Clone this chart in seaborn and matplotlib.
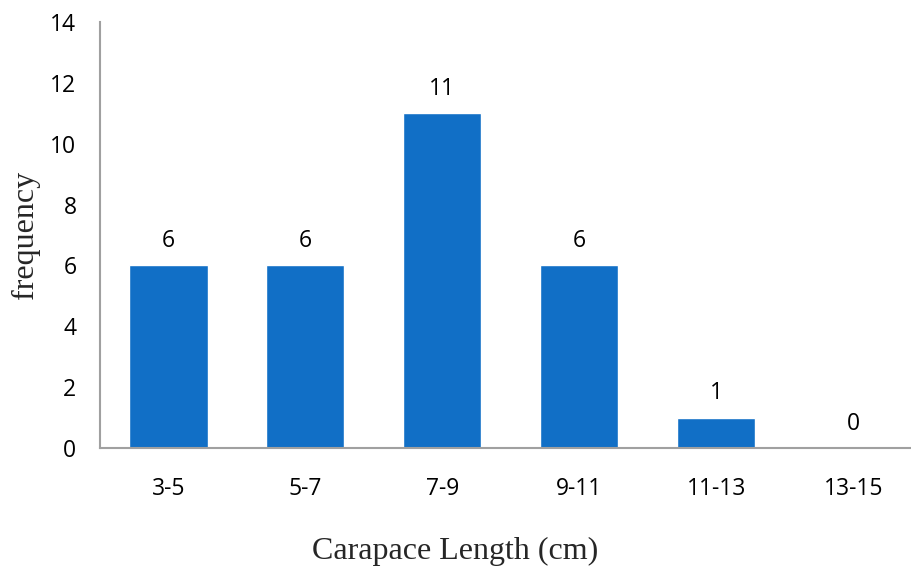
import matplotlib
matplotlib.use("Agg")
import matplotlib.pyplot as plt
import seaborn as sns
import pandas as pd

# Carapace length classes and their counts
length_classes = ["3-5", "5-7", "7-9", "9-11", "11-13", "13-15"]
frequencies = [6, 6, 11, 6, 1, 0]
y_ticks = [0, 2, 4, 6, 8, 10, 12, 14]

sns.set_theme(style="white")
plt.rcParams["font.family"] = ["Open Sans", "DejaVu Sans"]

df = pd.DataFrame({"class": length_classes, "freq": frequencies})

fig = plt.figure(figsize=(9.11, 5.71), dpi=100)
# the category axis runs slightly past the right edge of the canvas
ax = fig.add_axes([0.1098, 0.2154, 0.902, 0.7461])

sns.barplot(data=df, x="class", y="freq", color="#116FC6", width=0.57,
            saturation=1, ax=ax)

ax.set_ylim(0, 14)
ax.set_xlim(-0.5, len(length_classes) - 0.5)
ax.set_yticks(y_ticks)
ax.tick_params(axis="both", length=0, labelsize=16.5, colors="black")
ax.tick_params(axis="x", pad=21)
ax.tick_params(axis="y", pad=17)

for container in ax.containers:
    ax.bar_label(container, labels=[str(v) for v in frequencies],
                 padding=9, fontsize=16.5, color="black")

for side in ["top", "right"]:
    ax.spines[side].set_visible(False)
for side in ["left", "bottom"]:
    ax.spines[side].set_color("#A0A0A0")
    ax.spines[side].set_linewidth(1.5)

ax.set_xlabel("Carapace Length (cm)", fontsize=23, family="Liberation Serif")
ax.set_ylabel("frequency", fontsize=23, family="Liberation Serif")
ax.xaxis.set_label_coords(0.432, -0.242)
ax.yaxis.set_label_coords(-0.091, 0.5)
ax.xaxis.label.set_verticalalignment("center")
ax.yaxis.label.set_verticalalignment("center")

fig.savefig("out.png", dpi=100)
